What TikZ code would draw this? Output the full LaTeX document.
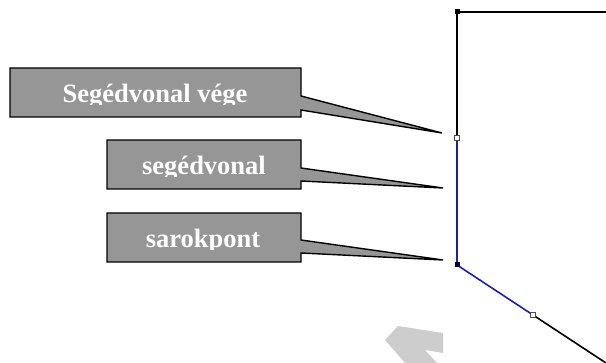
\documentclass[tikz,border=0pt]{standalone}
\usepackage{fontspec}
\setmainfont{Liberation Serif}
\begin{document}
\begin{tikzpicture}[x=1pt,y=-1pt,
  callout/.style={fill=calloutgray,draw=black,line width=1.4pt,line join=miter},
  labeltext/.style={text=white,font=\fontsize{26.5}{26.5}\selectfont\bfseries,inner sep=0pt,anchor=base},
  blackline/.style={line width=1.6pt,draw=black},
  blueline/.style={line width=1.6pt,draw=lineblue},
  openmark/.style={draw=black!70,fill=white,line width=0.6pt,minimum size=5pt,inner sep=0pt,rectangle},
  solidmark/.style={fill=black,minimum size=5pt,inner sep=0pt,rectangle}]
\definecolor{calloutgray}{RGB}{150,150,150}
\definecolor{lineblue}{RGB}{30,30,170}
\definecolor{arrowgray}{RGB}{205,205,205}
\useasboundingbox (0,0) rectangle (606,363);
% faint gray arrow
\fill[arrowgray] (385,340) -- (398,326) -- (443,333) -- (443,353) -- (425,350) -- (437,363) -- (405,363) -- cycle;
% polyline
\coordinate (top) at (457,12);
\coordinate (tr) at (606,12);
\coordinate (endp) at (457,138);
\coordinate (corner) at (457,265);
\coordinate (mid) at (533,315);
\coordinate (br) at (606,363);
\draw[blackline] (tr) -- (top) -- (endp);
\draw[blueline] (endp) -- (corner) -- (mid);
\draw[blackline] (mid) -- (br);
\node[solidmark] (mtop) at (top) {};
\node[openmark] (mend) at (endp) {};
\node[solidmark,fill=black!80!blue] (mcorner) at (corner) {};
\node[openmark] (mmid) at (mid) {};
% tips
\coordinate (tip1) at (442,133);
\coordinate (tip2) at (443,188);
\coordinate (tip3) at (443,260);
% callout 1
\draw[callout] (10,68) -- (301,68) -- (301,96) -- (tip1) -- (301,110) -- (301,117) -- (10,117) -- cycle;
% callout 2
\draw[callout] (107,140) -- (301,140) -- (301,168) -- (tip2) -- (301,181) -- (301,189) -- (107,189) -- cycle;
% callout 3
\draw[callout] (107,213) -- (301,213) -- (301,240) -- (tip3) -- (301,253) -- (301,262) -- (107,262) -- cycle;
\begin{scope}
\clip (10,68) rectangle (301,105);
\node[labeltext] (t1) at (155,103) {Segédvonal vége};
\end{scope}
\begin{scope}
\clip (107,140) rectangle (301,177);
\node[labeltext] (t2) at (204,175) {segédvonal};
\end{scope}
\begin{scope}
\clip (107,213) rectangle (301,250);
\node[labeltext] (t3) at (203,248) {sarokpont};
\end{scope}
\end{tikzpicture}
\end{document}
